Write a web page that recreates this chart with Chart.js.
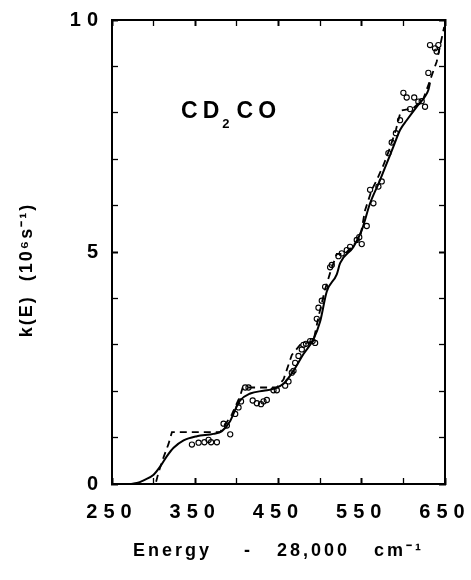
<!DOCTYPE html>
<html lang="en">
<head>
<meta charset="UTF-8">
<title>CD2CO k(E)</title>
<style>
    body { margin: 0; background: #ffffff; }
    #chart { display: block; }
</style>
</head>
<body>
<canvas id="chart" width="471" height="580"></canvas>
<script src="https://cdn.jsdelivr.net/npm/chart.js"></script>
<script>
// measured rates (open circles)
const measEnergy = [346, 354, 361, 366, 369, 376, 384, 388, 392, 398, 402, 405, 410, 414, 419, 424, 429, 432,
    436, 444, 448, 458, 462, 466, 468, 470, 474, 478, 480, 483, 488, 491, 494, 496, 498, 502,
    506, 512, 514, 522, 526, 532, 536, 544, 547, 550, 556, 560, 564, 570, 574, 582, 586, 591,
    596, 600, 604, 608, 613, 618, 622, 626, 630, 632, 638, 640, 642];
const measK = [0.85, 0.89, 0.9, 0.95, 0.9, 0.9, 1.3, 1.26, 1.07, 1.51, 1.65, 1.78, 2.08, 2.08, 1.8, 1.74, 1.72, 1.78,
    1.81, 2.02, 2.02, 2.12, 2.21, 2.4, 2.44, 2.61, 2.76, 2.9, 3.0, 3.02, 3.08, 3.08, 3.04, 3.56, 3.8, 3.95,
    4.25, 4.67, 4.72, 4.91, 4.97, 5.04, 5.11, 5.26, 5.32, 5.17, 5.56, 6.34, 6.05, 6.41, 6.52, 7.13, 7.36, 7.56,
    7.84, 8.43, 8.33, 8.08, 8.33, 8.24, 8.25, 8.13, 8.86, 9.46, 9.39, 9.32, 9.46];

// smooth curve (solid)
const fitEnergy = [272, 280, 288, 300, 308, 316, 324, 336, 352, 372, 382, 392, 398, 404, 416, 432, 444, 456, 468, 480,
    492, 500, 508, 520, 524, 540, 550, 560, 572, 580, 588, 596, 604, 616, 626, 630, 632];
const fitK = [0, 0.02, 0.08, 0.2, 0.38, 0.6, 0.78, 0.94, 1.03, 1.08, 1.14, 1.36, 1.6, 1.8, 1.95, 2.01, 2.05, 2.16, 2.44, 2.8,
    3.12, 3.5, 4.15, 4.52, 4.76, 5.11, 5.47, 6.05, 6.55, 6.91, 7.27, 7.63, 7.84, 8.13, 8.35, 8.49, 8.65];

// stepped curve (dashed)
const stepEnergy = [303, 306, 312, 318, 322, 380, 394, 404, 407, 448, 456, 466, 476, 492, 498, 506, 512, 520, 530, 540,
    548, 554, 562, 568, 576, 583, 591, 597, 612, 624, 630, 640, 649];
const stepK = [0.05, 0.26, 0.58, 0.87, 1.12, 1.12, 1.5, 1.9, 2.08, 2.08, 2.25, 2.78, 3.0, 3.08, 3.6, 4.2, 4.55, 4.96, 4.96, 5.15,
    5.3, 5.9, 6.34, 6.55, 6.87, 7.2, 7.63, 8.05, 8.1, 8.3, 8.6, 9.1, 9.85];

const xLabels = [250, 350, 450, 550, 650];
const yLabels = [0, 5, 10];

const FONT = '"Liberation Sans", Arial, sans-serif';

function pairs(xs, ys) {
    return xs.map((v, i) => ({ x: v, y: ys[i] }));
}

// inward tick marks + frame, shared by all four axes
const frameGrid = {
    drawOnChartArea: false,
    drawTicks: true,
    tickLength: -6,
    color: '#000',
    tickWidth: c => (c.tick && c.tick.label ? 2 : 1.3)
};
const frameBorder = { display: true, color: '#000', width: 2 };

// fixed axis boxes so the plot area stays put
function fixBox(w, h) {
    return s => {
        if (w !== null) s.width = w;
        if (h !== null) s.height = h;
        s.paddingLeft = s.paddingRight = s.paddingTop = s.paddingBottom = 0;
    };
}

// extra text + letter spacing
const textPlugin = {
    id: 'textExtras',
    beforeDraw(chart) {
        chart.ctx.letterSpacing = '3px';   // axis title
    },
    afterDatasetsDraw(chart) {
        chart.ctx.letterSpacing = '6px';   // tick labels (drawn after, z: 1)
    },
    afterDraw(chart) {
        const { ctx, chartArea: a, scales: { x, y } } = chart;
        ctx.save();
        ctx.fillStyle = '#000';

        // frame on top of the curve ends
        ctx.fillRect(a.left - 1, a.top - 1, a.right - a.left + 2, 2);
        ctx.fillRect(a.left - 1, a.bottom - 1, a.right - a.left + 2, 2);
        ctx.fillRect(a.left - 1, a.top - 1, 2, a.bottom - a.top + 2);
        ctx.fillRect(a.right - 1, a.top - 1, 2, a.bottom - a.top + 2);

        // y axis title
        ctx.letterSpacing = '2px';
        ctx.font = 'bold 18px ' + FONT;
        ctx.textAlign = 'center';
        ctx.textBaseline = 'middle';
        ctx.translate(27, (a.top + a.bottom) / 2 + 18);
        ctx.rotate(-Math.PI / 2);
        ctx.fillText('k(E)  (10\u2076s\u207B\u00B9)', 0, 0);
        ctx.setTransform(1, 0, 0, 1, 0, 0);

        // CD2CO label
        ctx.letterSpacing = '5px';
        ctx.textAlign = 'left';
        ctx.textBaseline = 'alphabetic';
        let lx = x.getPixelForValue(333);
        const base = y.getPixelForValue(7.88);
        ctx.font = 'bold 23px ' + FONT;
        ctx.fillText('CD', lx, base);
        lx += ctx.measureText('CD').width;
        ctx.font = 'bold 13px ' + FONT;
        ctx.fillText('2', lx - 2, base + 10);
        lx += ctx.measureText('2').width;
        ctx.font = 'bold 23px ' + FONT;
        ctx.fillText('CO', lx, base);
        ctx.restore();
        ctx.letterSpacing = '0px';
    }
};

Chart.defaults.color = '#000';

new Chart(document.getElementById('chart'), {
    type: 'scatter',
    data: {
        datasets: [
            {
                label: 'measured',
                data: pairs(measEnergy, measK),
                pointStyle: 'circle',
                pointRadius: 2.6,
                pointBorderWidth: 1.1,
                borderColor: '#000',
                backgroundColor: 'rgba(255,255,255,0)',
                order: 0
            },
            {
                label: 'fit',
                data: pairs(fitEnergy, fitK),
                showLine: true,
                cubicInterpolationMode: 'monotone',
                borderColor: '#000',
                borderWidth: 2,
                pointRadius: 0,
                order: 1
            },
            {
                label: 'steps',
                data: pairs(stepEnergy, stepK),
                showLine: true,
                borderColor: '#000',
                borderWidth: 1.8,
                borderDash: [7, 5],
                pointRadius: 0,
                order: 2
            }
        ]
    },
    options: {
        responsive: false,
        animation: false,
        events: [],
        layout: { padding: { top: 20, right: 26, left: 0, bottom: 0 } },
        plugins: { legend: { display: false }, tooltip: { enabled: false } },
        scales: {
            x: {
                type: 'linear',
                position: 'bottom',
                min: 250,
                max: 650,
                grid: frameGrid,
                border: frameBorder,
                ticks: {
                    stepSize: 50,
                    autoSkip: false,
                    maxRotation: 0,
                    padding: 22,
                    z: 1,
                    font: { family: FONT, size: 20, weight: 'bold' },
                    callback: v => xLabels.includes(v) ? String(v) : ''
                },
                title: {
                    display: true,
                    text: 'Energy    -   28,000   cm\u207B\u00B9',
                    font: { family: FONT, size: 18, weight: 'bold' },
                    padding: { top: 0, bottom: 18 }
                },
                afterFit: fixBox(null, 96)
            },
            xTop: {
                type: 'linear',
                position: 'top',
                min: 250,
                max: 650,
                grid: frameGrid,
                border: frameBorder,
                ticks: {
                    stepSize: 50,
                    autoSkip: false,
                    display: false,
                    callback: v => xLabels.includes(v) ? String(v) : ''
                },
                afterFit: fixBox(null, 0)
            },
            y: {
                type: 'linear',
                position: 'left',
                min: 0,
                max: 10,
                grid: frameGrid,
                border: frameBorder,
                ticks: {
                    stepSize: 1,
                    autoSkip: false,
                    padding: 14,
                    z: 1,
                    font: { family: FONT, size: 20, weight: 'bold' },
                    callback: v => yLabels.includes(v) ? String(v) : ''
                },
                afterFit: fixBox(112, null)
            },
            yRight: {
                type: 'linear',
                position: 'right',
                min: 0,
                max: 10,
                grid: frameGrid,
                border: frameBorder,
                ticks: {
                    stepSize: 1,
                    autoSkip: false,
                    display: false,
                    callback: v => yLabels.includes(v) ? String(v) : ''
                },
                afterFit: fixBox(0, null)
            }
        }
    },
    plugins: [textPlugin]
});
</script>
</body>
</html>
